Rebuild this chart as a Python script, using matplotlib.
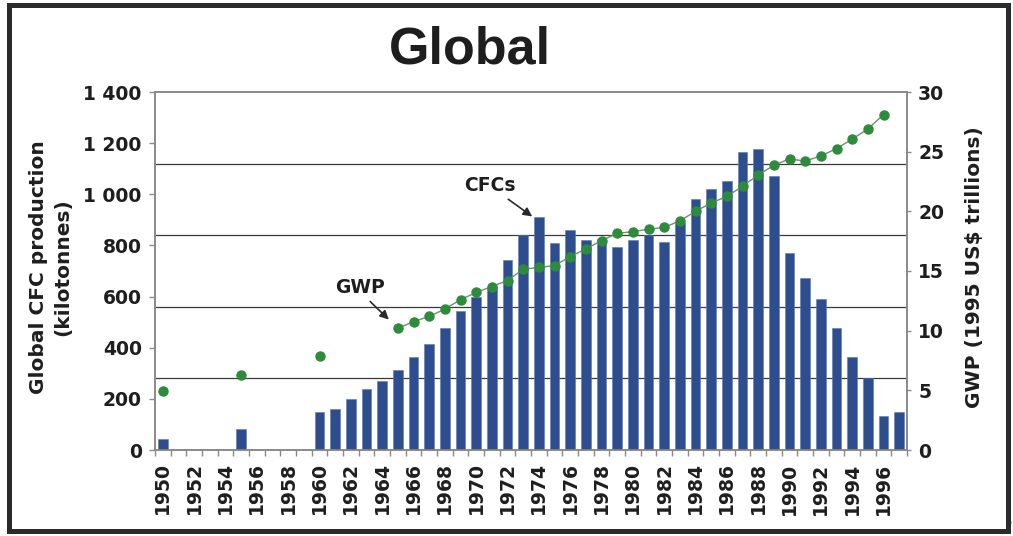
import matplotlib
matplotlib.use("Agg")
import matplotlib.pyplot as plt
from matplotlib.patches import Rectangle
import numpy as np

# Years shown on the category axis
YEARS = list(range(1950, 1998))

# Global CFC production (kilotonnes); 0 where no production is recorded
CFC = [42, 0, 0, 0, 0, 82, 0, 0, 0, 0,
       147, 159, 198, 238, 271, 312, 365, 415, 478, 545,
       600, 639, 743, 841, 910, 808, 860, 821, 824, 795,
       821, 841, 812, 886, 982, 1021, 1053, 1167, 1177, 1072,
       769, 671, 590, 478, 365, 280, 133, 147]

# Gross world product (1995 US$ trillions); None where no estimate exists
GWP = [4.95, None, None, None, None, 6.3, None, None, None, None,
       7.9, None, None, None, None, 10.2, 10.75, 11.2, 11.8, 12.6,
       13.2, 13.7, 14.2, 15.15, 15.3, 15.45, 16.2, 16.85, 17.55, 18.15,
       18.3, 18.5, 18.65, 19.2, 20.0, 20.7, 21.25, 22.1, 23.05, 23.85,
       24.4, 24.2, 24.65, 25.25, 26.05, 26.9, 28.1, None]

CFC_TICKS = list(range(0, 1401, 200))
GWP_TICKS = list(range(0, 31, 5))
YEAR_LABELS = YEARS[::2]

TICK_FONT = dict(family="DejaVu Sans", weight="bold", size=13.5)
TEXT_COLOR = "#1e1e1e"
BAR_COLOR = "#2d4d8f"
DOT_COLOR = "#2e8b3c"

fig = plt.figure(figsize=(10.13, 5.36), dpi=100)
fig.patch.set_facecolor("white")

ax = fig.add_axes([155 / 1013, 86 / 536, 752 / 1013, 358 / 536])
ax2 = ax.twinx()

# Bars for CFC production
ax.bar(YEARS, CFC, width=0.62, color=BAR_COLOR, edgecolor="#5f79b0",
       linewidth=0.4, zorder=3)
ax.set_xlim(YEARS[0] - 0.5, YEARS[-1] + 0.5)
ax.set_ylim(CFC_TICKS[0], CFC_TICKS[-1])

# Horizontal gridlines dividing the plot into five bands
for k in range(1, 5):
    ax.axhline(CFC_TICKS[-1] * k / 5, color="#3a3a3a", lw=0.9, zorder=1)

# GWP dots, joined by a thin line where the series is continuous
gwp = np.array([np.nan if v is None else v for v in GWP], dtype=float)
ax2.plot(YEARS, gwp, color="#6f8f6f", lw=1.0, zorder=2)
ax2.plot(YEARS, gwp, ls="none", marker="o", ms=6.5, color=DOT_COLOR,
         markeredgecolor=DOT_COLOR, zorder=3)
ax2.set_ylim(GWP_TICKS[0], GWP_TICKS[-1])

# Axis styling
for a in (ax, ax2):
    for side, sp in a.spines.items():
        sp.set_color("#8a8a8a")
        sp.set_linewidth(1.2)

ax.set_yticks(CFC_TICKS)
ax.set_yticklabels([f"{v:,}".replace(",", " ") for v in CFC_TICKS],
                   fontdict=TICK_FONT, color=TEXT_COLOR)
ax.tick_params(axis="y", direction="out", length=4.5, width=1, color="#8a8a8a",
               pad=5)

ax2.set_yticks(GWP_TICKS)
ax2.set_yticklabels([str(v) for v in GWP_TICKS], fontdict=TICK_FONT,
                    color=TEXT_COLOR)
ax2.tick_params(axis="y", direction="out", length=3, width=1, color="#8a8a8a",
                pad=5)

ax.set_xticks(YEAR_LABELS)
ax.set_xticklabels([str(y) for y in YEAR_LABELS], rotation=90,
                   fontdict=TICK_FONT, color=TEXT_COLOR)
ax.set_xticks([y - 0.5 for y in YEARS] + [YEARS[-1] + 0.5], minor=True)
ax.tick_params(axis="x", which="major", length=0, pad=9)
ax.tick_params(axis="x", which="minor", direction="out", length=4, width=1,
               color="#8a8a8a")

LABEL_FONT = dict(family="DejaVu Sans", weight="bold", size=14.5)
ax.set_ylabel("Global CFC production\n(kilotonnes)", fontdict=LABEL_FONT,
              color=TEXT_COLOR, linespacing=1.35)
ax.yaxis.set_label_coords(-0.110, 0.512)
ax2.set_ylabel(r"GWP (1995 US\$ trillions)", fontdict=LABEL_FONT,
               color=TEXT_COLOR, rotation=90)
ax2.yaxis.set_label_coords(1.077, 0.511)

# Series call-outs
arrow = dict(arrowstyle="-|>", color="#2a2a2a", lw=1.2, mutation_scale=13,
             shrinkA=2, shrinkB=0)
i65 = YEARS.index(1965)
ax2.annotate("GWP", xy=(1965, GWP[i65]), xycoords="data",
             xytext=(-27, 29.5), textcoords="offset points",
             ha="center", va="center", fontsize=13.5, fontweight="bold",
             family="DejaVu Sans", color=TEXT_COLOR,
             arrowprops=dict(arrow, relpos=(0.6, 0.0), shrinkB=9))
i74 = YEARS.index(1974)
ax.annotate("CFCs", xy=(1974 - 0.35, CFC[i74]), xycoords="data",
            xytext=(-31, 23), textcoords="offset points",
            ha="center", va="center", fontsize=13.5, fontweight="bold",
            family="DejaVu Sans", color=TEXT_COLOR, zorder=5,
            arrowprops=dict(arrow, relpos=(0.73, 0.0), shrinkB=1))

# Title
fig.text(470 / 1013, 1 - 63 / 536, "Global", ha="center", va="baseline",
         family="Liberation Sans", weight="bold", size=37.5, color=TEXT_COLOR)

# Dark frame around the whole figure
fig.patches.append(Rectangle((8.5 / 1013, 5 / 536), (1008 - 8.5) / 1013,
                             (531 - 5) / 536, transform=fig.transFigure,
                             fill=False, edgecolor="#2b2b2b", lw=3.6,
                             zorder=10))
fig.text(1009 / 1013, 1 - 523 / 536, "9", fontsize=5.5, ha="center",
         va="center", color="#333333")

fig.savefig("out.png", dpi=100)
